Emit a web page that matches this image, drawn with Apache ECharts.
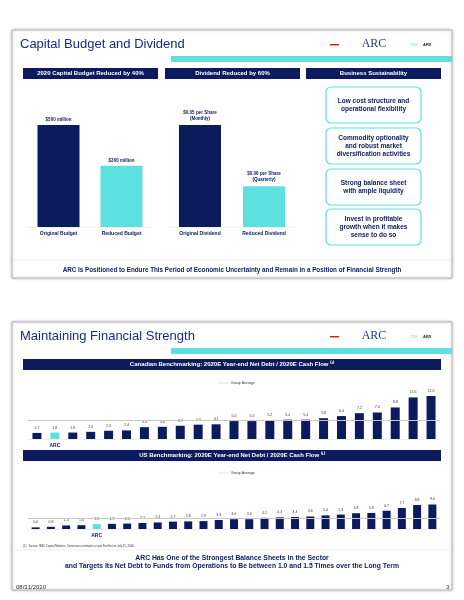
<!DOCTYPE html>
<html><head><meta charset="utf-8">
<script src="https://cdn.jsdelivr.net/npm/echarts@6/dist/echarts.min.js"></script>
<style>html,body{margin:0;padding:0;background:#fff}#c{width:464px;height:600px}</style>
</head><body><div id="c"></div>
<script>
const budgetCats = ['Original Budget','Reduced Budget'];
const budgetVals = [500, 300];
const budgetLabels = ['$500 million','$300 million'];
const divCats = ['Original Dividend','Reduced Dividend'];
const divVals = [0.15, 0.06];
const divLabels = ['$0.05 per Share\n(Monthly)','$0.06 per Share\n(Quarterly)'];
const sustain = ['Low cost structure and\noperational flexibility','Commodity optionality\nand robust market\ndiversification activities','Strong balance sheet\nwith ample liquidity','Invest in profitable\ngrowth when it makes\nsense to do so'];
const canCats = ['C1','ARC','C3','C4','C5','C6','C7','C8','C9','C10','C11','C12','C13','C14','C15','C16','C17','C18','C19','C20','C21','C22','C23'];
const canVals = [1.7,1.8,1.8,2.0,2.3,2.4,3.3,3.4,3.7,4.0,4.1,5.0,5.0,5.2,5.4,5.4,5.8,6.4,7.2,7.4,8.8,11.6,12.0];
const canAvg = 5.1;
const usCats = ['U1','U2','U3','U4','ARC','U6','U7','U8','U9','U10','U11','U12','U13','U14','U15','U16','U17','U18','U19','U20','U21','U22','U23','U24','U25','U26','U27'];
const usVals = [0.6,0.8,1.3,1.4,1.8,1.9,2.0,2.2,2.4,2.7,2.8,2.9,3.3,3.6,3.6,4.1,4.3,4.4,4.6,5.0,5.3,5.8,5.9,6.7,7.7,8.8,9.0];
const usAvg = 4.0;

const NAVY='#0c1a5e', CYAN='#5fe0e0', F='Liberation Sans, Arial, sans-serif';
const chart = echarts.init(document.getElementById('c'));

function hdr(x,y,w,h,t){return [{type:'rect',shape:{x,y,width:w,height:h},style:{fill:NAVY}},
 {type:'text',x:x+w/2,y:y+h/2,style:{text:t,fill:'#fff',font:'bold 6px '+F,align:'center',verticalAlign:'middle'}}];}
function slide(top,bottom,title){return [
 {type:'rect',shape:{x:12,y:top,width:440,height:bottom-top},style:{fill:'#fff',stroke:'#bbb',lineWidth:1,shadowBlur:3,shadowColor:'rgba(0,0,0,0.25)'}},
 {type:'rect',shape:{x:171,y:top+26,width:281,height:6},style:{fill:CYAN}},
 {type:'text',x:20,y:top+14,style:{text:title,fill:'#1a2a86',font:'13px '+F,verticalAlign:'middle'}},
 {type:'rect',shape:{x:330,y:top+14,width:9,height:1.5},style:{fill:'#e02020'}},
 {type:'text',x:374,y:top+14,style:{text:'ARC',fill:'#2a3a8a',font:'12px Liberation Serif, serif',align:'center',verticalAlign:'middle'}},
 {type:'text',x:410,y:top+15,style:{text:'TSX',fill:CYAN,font:'4px '+F,verticalAlign:'middle'}},
 {type:'text',x:423,y:top+15,style:{text:'ARX',fill:'#222',font:'bold 4px '+F,verticalAlign:'middle'}}];}

let g=[];
g=g.concat(slide(30,278,'Capital Budget and Dividend'));
g=g.concat(hdr(23,68,135,11,'2020 Capital Budget Reduced by 40%'));
g=g.concat(hdr(165,68,135,11,'Dividend Reduced by 60%'));
g=g.concat(hdr(306,68,135,11,'Business Sustainability'));
sustain.forEach((s,i)=>{const y=[87,128,169,209][i];
 g.push({type:'rect',shape:{x:326,y:y,width:95,height:36,r:5},style:{fill:'#fff',stroke:CYAN,lineWidth:1.2}});
 g.push({type:'text',x:373.5,y:y+18,style:{text:s,fill:NAVY,font:'bold 6.5px '+F,align:'center',verticalAlign:'middle',lineHeight:8}});});
g.push({type:'line',shape:{x1:12,y1:260,x2:452,y2:260},style:{stroke:'#ddd',lineWidth:0.5}});
g.push({type:'text',x:232,y:270,style:{text:'ARC Is Positioned to Endure This Period of Economic Uncertainty and Remain in a Position of Financial Strength',fill:NAVY,font:'bold 6.3px '+F,align:'center',verticalAlign:'middle'}});

g=g.concat(slide(322,590,'Maintaining Financial Strength'));
g=g.concat(hdr(23,359,418,11,'Canadian Benchmarking: 2020E Year-end Net Debt / 2020E Cash Flow ⁽¹⁾'));
g=g.concat(hdr(23,450,418,11,'US Benchmarking: 2020E Year-end Net Debt / 2020E Cash Flow ⁽¹⁾'));
[[383],[473]].forEach(([y])=>{
 g.push({type:'line',shape:{x1:218,y1:y,x2:229,y2:y},style:{stroke:'#aaa',lineWidth:0.6,lineDash:[1,0.6]}});
 g.push({type:'text',x:231,y:y,style:{text:'Group Average',fill:'#333',font:'3.5px '+F,verticalAlign:'middle'}});});
g.push({type:'text',x:23,y:546,style:{text:'(1)   Source: RBC Capital Markets. Consensus estimates as per FactSet on July 15, 2020.',fill:'#333',font:'2.8px '+F,verticalAlign:'middle'}});
g.push({type:'line',shape:{x1:12,y1:550,x2:452,y2:550},style:{stroke:'#ddd',lineWidth:0.5}});
g.push({type:'text',x:232,y:558,style:{text:'ARC Has One of the Strongest Balance Sheets in the Sector',fill:NAVY,font:'bold 6.8px '+F,align:'center',verticalAlign:'middle'}});
g.push({type:'text',x:232,y:566,style:{text:'and Targets Its Net Debt to Funds from Operations to Be between 1.0 and 1.5 Times over the Long Term',fill:NAVY,font:'bold 6.8px '+F,align:'center',verticalAlign:'middle'}});
g.push({type:'text',x:16,y:587,style:{text:'08/31/2020',fill:'#333',font:'6px '+F,verticalAlign:'middle'}});
g.push({type:'text',x:446,y:587,style:{text:'3',fill:'#333',font:'6px '+F,verticalAlign:'middle'}});

const small={fontSize:5,fontWeight:'bold',color:NAVY,fontFamily:F};
function xcat(i,data,fmt){return {type:'category',gridIndex:i,data,axisTick:{show:false},axisLine:{lineStyle:{color:'#ddd',width:0.5}},axisLabel:Object.assign({margin:4,interval:0,formatter:fmt},small)};}
function yval(i,max){return {type:'value',gridIndex:i,min:0,max,show:false,splitLine:{show:false}};}
const arcOnly=v=>v==='ARC'?'ARC':'';

chart.setOption({
 animation:false,
 graphic:{elements:g},
 grid:[
  {left:27,width:126,top:125,height:102},
  {left:168,width:128,top:125,height:102},
  {left:28,width:412,top:396,height:43},
  {left:28,width:412,top:504.5,height:24.5}],
 xAxis:[xcat(0,budgetCats),xcat(1,divCats),xcat(2,canCats,arcOnly),xcat(3,usCats,arcOnly)],
 yAxis:[yval(0,500),yval(1,0.15),yval(2,12),yval(3,9)],
 series:[
  {type:'bar',xAxisIndex:0,yAxisIndex:0,barWidth:42,data:budgetVals.map((v,i)=>({value:v,itemStyle:{color:i?CYAN:NAVY}})),
   label:{show:true,position:'top',distance:3,formatter:p=>budgetLabels[p.dataIndex],...small,fontSize:4.5}},
  {type:'bar',xAxisIndex:1,yAxisIndex:1,barWidth:42,data:divVals.map((v,i)=>({value:v,itemStyle:{color:i?CYAN:NAVY}})),
   label:{show:true,position:'top',distance:3,lineHeight:6,formatter:p=>divLabels[p.dataIndex],...small,fontSize:4.5}},
  {type:'bar',xAxisIndex:2,yAxisIndex:2,barWidth:9,data:canVals.map((v,i)=>({value:v,itemStyle:{color:canCats[i]==='ARC'?CYAN:NAVY}})),
   label:{show:true,position:'top',distance:3,formatter:p=>p.value.toFixed(1),fontSize:3.5,color:'#333',fontFamily:F},
   markLine:{silent:true,symbol:'none',label:{show:false},lineStyle:{color:'#c8c8c8',type:'solid',width:1},data:[{yAxis:canAvg}]}},
  {type:'bar',xAxisIndex:3,yAxisIndex:3,barWidth:8,data:usVals.map((v,i)=>({value:v,itemStyle:{color:usCats[i]==='ARC'?CYAN:NAVY}})),
   label:{show:true,position:'top',distance:3,formatter:p=>p.value.toFixed(1),fontSize:3.5,color:'#333',fontFamily:F},
   markLine:{silent:true,symbol:'none',label:{show:false},lineStyle:{color:'#c8c8c8',type:'solid',width:1},data:[{yAxis:usAvg}]}}
 ]
});
</script></body></html>
